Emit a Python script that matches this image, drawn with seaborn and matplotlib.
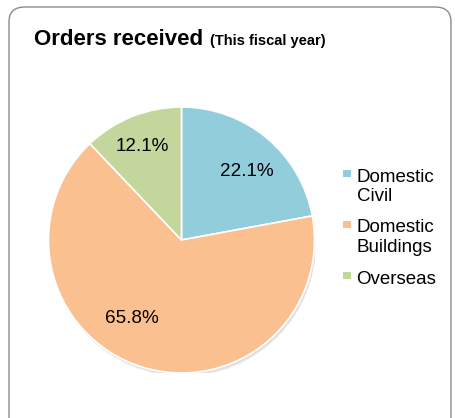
import matplotlib
matplotlib.use("Agg")
import matplotlib.pyplot as plt
from matplotlib.patches import FancyBboxPatch, Rectangle
import seaborn as sns

sns.set_theme(style="white")
plt.rcParams["font.family"] = ["Liberation Sans", "DejaVu Sans"]

# Orders received this fiscal year, share by segment (%)
categories = ["Domestic\nCivil", "Domestic\nBuildings", "Overseas"]
shares = [22.1, 65.8, 12.1]
colors = ["#92CDDC", "#FAC090", "#C3D69B"]

W, H = 455, 418
fig = plt.figure(figsize=(W / 100, H / 100), dpi=100)
fig.patch.set_facecolor("white")

# Rounded frame around the chart
frame = FancyBboxPatch((9 / W, -20 / H), (442 / W), (H + 20 - 7) / H,
                       boxstyle="round,pad=0,rounding_size=0.035",
                       transform=fig.transFigure, facecolor="white",
                       edgecolor="#8c8c8c", linewidth=1.0, zorder=-10)
fig.patches.append(frame)

# Title with bold subtitle
fig.text(34 / W, 1 - 45 / H, "Orders received", fontsize=16, fontweight="bold",
         va="baseline", ha="left", color="black")
fig.text(210 / W, 1 - 45 / H, "(This fiscal year)", fontsize=10.5, fontweight="bold",
         va="baseline", ha="left", color="black")

# Pie axes: centre (181.5, 240), radius 133 px
cx, cy, r = 181.5, 240, 133
ax = fig.add_axes([(cx - r) / W, (H - cy - r) / H, 2 * r / W, 2 * r / H])
ax.patch.set_alpha(0)
ax.axis("off")

# soft shadow under the pie
for i, a in enumerate([0.05, 0.04, 0.03]):
    sh = plt.Circle((0.012, -0.018 - 0.006 * i), 1.0, color="black", alpha=a,
                    zorder=0, lw=0)
    ax.add_patch(sh)

wedges, texts, autotexts = ax.pie(
    shares, colors=colors, startangle=90, counterclock=False, radius=1.0,
    autopct="%.1f%%", pctdistance=0.72,
    wedgeprops=dict(edgecolor="white", linewidth=1.2),
    textprops=dict(fontsize=13.6, color="black"),
)

# percentage labels sit where the spreadsheet-style layout puts them
label_pos = [(0.492, 0.513), (-0.372, -0.588), (-0.291, 0.703)]
for t, p in zip(autotexts, label_pos):
    t.set_position(p)

ax.set_aspect("equal")
ax.set_xlim(-1, 1)
ax.set_ylim(-1, 1)

# Legend: square swatch aligned with the first line of each label
leg_y = [173.5, 224, 275.5]
for label, color, y in zip(categories, colors, leg_y):
    fig.patches.append(Rectangle((343 / W, 1 - (y + 3.5) / H), 8 / W, 7 / H,
                                 transform=fig.transFigure, facecolor=color,
                                 edgecolor="none"))
    for k, line in enumerate(label.split("\n")):
        fig.text(356.5 / W, 1 - (y + 8 + 20 * k) / H, line, fontsize=13.5,
                 va="baseline", ha="left", color="black")

fig.savefig("out.png", dpi=100, facecolor="white")
